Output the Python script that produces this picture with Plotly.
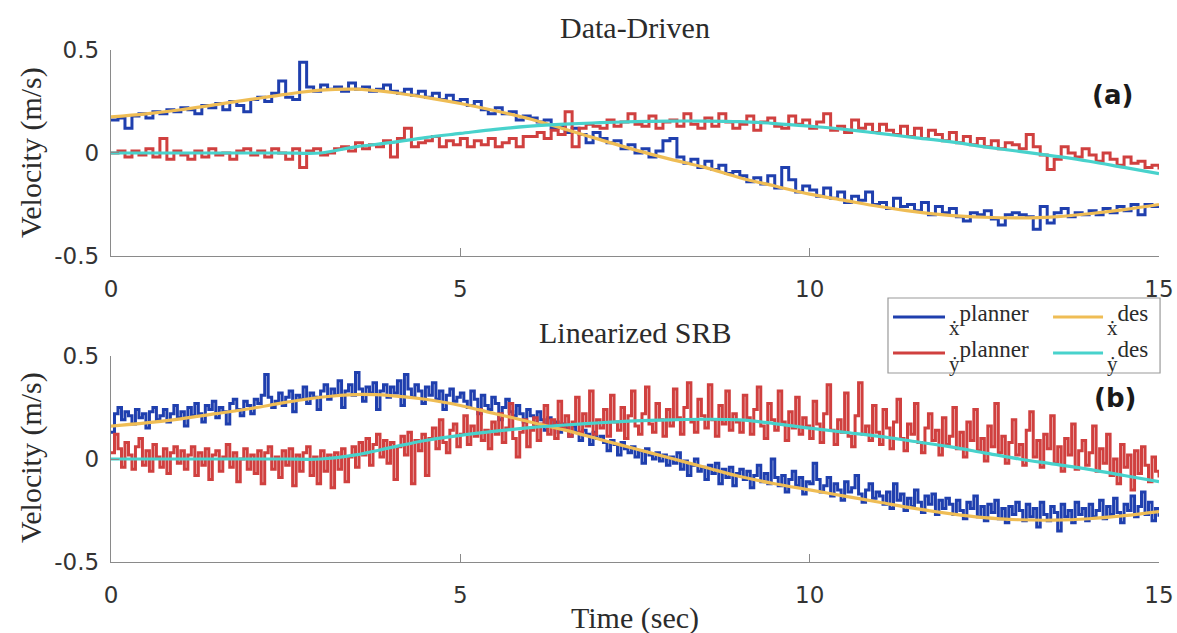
import numpy as np
import plotly.graph_objects as go

# ---------------- data ----------------
# planner output: Data-Driven logged every 0.1 s, Linearized SRB every 0.05 s
t_plan_dd = np.round(np.arange(0, 15.0001, 0.1), 2)
t_plan_srb = np.round(np.arange(0, 15.0001, 0.05), 2)
# desired trajectories every 0.5 s
t_des = np.round(np.arange(0, 15.0001, 0.5), 2)

# (a) Data-Driven
dd_xdot_planner = [
    0.16, 0.17, 0.12, 0.18, 0.19, 0.17, 0.20, 0.19, 0.21, 0.20,
    0.22, 0.21, 0.19, 0.23, 0.22, 0.24, 0.21, 0.25, 0.23, 0.20,
    0.26, 0.27, 0.25, 0.29, 0.35, 0.27, 0.26, 0.44, 0.32, 0.30,
    0.33, 0.31, 0.32, 0.30, 0.34, 0.31, 0.32, 0.30, 0.31, 0.33,
    0.30, 0.29, 0.31, 0.28, 0.30, 0.27, 0.29, 0.26, 0.28, 0.25,
    0.26, 0.23, 0.25, 0.21, 0.19, 0.22, 0.19, 0.20, 0.16, 0.18,
    0.17, 0.15, 0.16, 0.12, 0.13, 0.10, 0.12, 0.09, 0.05, 0.10,
    0.07, 0.05, 0.06, 0.02, 0.04, 0.00, 0.02, -0.02, 0.01, 0.06,
    0.07, -0.02, -0.05, -0.03, -0.07, -0.04, -0.08, -0.06, -0.10, -0.09,
    -0.11, -0.14, -0.12, -0.15, -0.11, -0.17, -0.07, -0.13, -0.19, -0.16,
    -0.18, -0.21, -0.17, -0.22, -0.19, -0.24, -0.21, -0.23, -0.19, -0.25,
    -0.24, -0.27, -0.22, -0.26, -0.25, -0.28, -0.24, -0.30, -0.26, -0.29,
    -0.27, -0.31, -0.33, -0.29, -0.30, -0.28, -0.32, -0.35, -0.30, -0.29,
    -0.30, -0.31, -0.37, -0.26, -0.34, -0.29, -0.27, -0.31, -0.29, -0.30,
    -0.28, -0.30, -0.27, -0.29, -0.26, -0.28, -0.25, -0.30, -0.25, -0.26,
    -0.25,
]
dd_ydot_planner = [
    0.00, 0.01, -0.02, 0.01, -0.01, 0.02, -0.02, 0.07, -0.03, 0.01,
    -0.01, -0.03, 0.01, -0.02, 0.02, -0.01, 0.00, -0.03, 0.01, 0.02,
    -0.01, 0.01, -0.02, 0.02, 0.00, -0.03, 0.02, -0.07, 0.01, 0.02,
    -0.01, 0.00, 0.02, 0.03, 0.01, 0.05, 0.02, 0.04, 0.03, 0.06,
    -0.02, 0.07, 0.12, 0.03, 0.05, 0.06, 0.08, 0.03, 0.06, 0.04,
    0.07, 0.03, 0.06, 0.04, 0.07, 0.03, 0.05, 0.07, 0.03, 0.08,
    0.08, 0.10, 0.07, 0.11, 0.09, 0.20, 0.03, 0.12, 0.14, 0.13,
    0.12, 0.16, 0.13, 0.15, 0.19, 0.14, 0.13, 0.18, 0.12, 0.15,
    0.16, 0.13, 0.19, 0.14, 0.12, 0.17, 0.13, 0.19, 0.15, 0.12,
    0.14, 0.18, 0.11, 0.15, 0.17, 0.13, 0.12, 0.18, 0.14, 0.16,
    0.12, 0.15, 0.19, 0.11, 0.13, 0.10, 0.16, 0.12, 0.14, 0.10,
    0.14, 0.11, 0.09, 0.13, 0.08, 0.12, 0.07, 0.11, 0.09, 0.06,
    0.10, 0.05, 0.08, 0.04, 0.07, 0.03, 0.06, 0.02, 0.05, 0.04,
    0.02, 0.09, 0.03, -0.01, -0.08, -0.03, 0.03, 0.00, -0.02, 0.02,
    -0.01, -0.04, 0.00, -0.03, -0.06, -0.02, -0.05, -0.04, -0.07, -0.06,
    -0.08,
]
dd_xdot_des = [
    0.175, 0.19, 0.21, 0.235, 0.26, 0.285, 0.305, 0.31, 0.295, 0.27,
    0.24, 0.205, 0.165, 0.115, 0.065, 0.015, -0.03, -0.07, -0.12, -0.16,
    -0.2, -0.23, -0.26, -0.285, -0.303, -0.312, -0.315, -0.31, -0.295, -0.275,
    -0.25,
]
dd_ydot_des = [
    0.0, 0.0, 0.0, 0.0, 0.0, 0.0, 0.0, 0.03, 0.05, 0.075,
    0.095, 0.115, 0.13, 0.14, 0.147, 0.152, 0.155, 0.155, 0.152, 0.143,
    0.13, 0.115, 0.095, 0.075, 0.055, 0.03, 0.008, -0.015, -0.04, -0.07,
    -0.1,
]

# (b) Linearized SRB, one row per second
srb_xdot_planner = [
    0.13, 0.22, 0.25, 0.19, 0.23, 0.21, 0.17, 0.24, 0.20, 0.22, 0.15, 0.23, 0.25, 0.19, 0.21, 0.24, 0.18, 0.22, 0.26, 0.20,
    0.23, 0.16, 0.25, 0.21, 0.27, 0.22, 0.18, 0.26, 0.24, 0.28, 0.20, 0.25, 0.23, 0.17, 0.27, 0.29, 0.24, 0.21, 0.28, 0.26,
    0.22, 0.29, 0.27, 0.31, 0.41, 0.30, 0.25, 0.28, 0.32, 0.26, 0.30, 0.33, 0.23, 0.31, 0.29, 0.35, 0.27, 0.32, 0.30, 0.24,
    0.33, 0.36, 0.29, 0.34, 0.31, 0.38, 0.25, 0.33, 0.36, 0.31, 0.42, 0.34, 0.28, 0.35, 0.32, 0.37, 0.24, 0.33, 0.36, 0.30,
    0.35, 0.32, 0.38, 0.26, 0.41, 0.34, 0.30, 0.36, 0.33, 0.27, 0.35, 0.31, 0.37, 0.29, 0.33, 0.24, 0.31, 0.34, 0.28, 0.30,
    0.32, 0.28, 0.25, 0.33, 0.29, 0.22, 0.31, 0.26, 0.24, 0.30, 0.27, 0.19, 0.25, 0.29, 0.23, 0.21, 0.26, 0.22, 0.18, 0.24,
    0.21, 0.17, 0.23, 0.19, 0.14, 0.20, 0.16, 0.18, 0.13, 0.17, 0.15, 0.11, 0.16, 0.13, 0.09, 0.14, 0.12, 0.07, 0.13, 0.10,
    0.11, 0.08, 0.04, 0.09, 0.07, 0.02, 0.08, 0.05, 0.03, 0.06, 0.01, 0.04, -0.02, 0.05, 0.02, 0.00, 0.03, -0.01, 0.02, -0.03,
    0.01, -0.02, 0.03, -0.05, -0.01, -0.08, -0.03, 0.00, -0.06, -0.04, -0.10, -0.03, -0.07, -0.02, -0.12, -0.05, -0.09, -0.04, -0.13, -0.07,
    -0.05, -0.10, -0.06, -0.14, -0.08, -0.03, -0.11, -0.07, -0.12, 0.00, -0.09, -0.13, -0.08, -0.16, -0.10, -0.06, -0.13, -0.09, -0.17, -0.11,
    -0.12, -0.02, -0.10, -0.16, -0.13, -0.09, -0.18, -0.12, -0.15, -0.20, -0.11, -0.16, -0.14, -0.08, -0.17, -0.21, -0.15, -0.12, -0.19, -0.16,
    -0.18, -0.22, -0.16, -0.24, -0.12, -0.20, -0.17, -0.25, -0.19, -0.23, -0.15, -0.21, -0.26, -0.18, -0.22, -0.17, -0.27, -0.20, -0.24, -0.19,
    -0.22, -0.27, -0.20, -0.25, -0.29, -0.21, -0.24, -0.18, -0.28, -0.23, -0.30, -0.22, -0.26, -0.20, -0.29, -0.24, -0.31, -0.23, -0.27, -0.21,
    -0.25, -0.30, -0.22, -0.28, -0.24, -0.33, -0.21, -0.27, -0.30, -0.23, -0.26, -0.35, -0.22, -0.28, -0.25, -0.31, -0.21, -0.27, -0.24, -0.30,
    -0.22, -0.28, -0.25, -0.20, -0.29, -0.23, -0.27, -0.19, -0.26, -0.31, -0.22, -0.25, -0.18, -0.28, -0.23, -0.16, -0.27, -0.21, -0.30, -0.24,
    -0.28,
]
srb_ydot_planner = [
    0.03, 0.12, 0.05, -0.04, 0.08, 0.02, -0.05, 0.06, 0.10, -0.03, 0.04, -0.06, 0.07, 0.01, -0.04, 0.05, -0.07, 0.03, 0.06, -0.02,
    0.04, -0.05, 0.02, 0.06, -0.08, 0.03, -0.03, 0.05, -0.10, 0.02, 0.04, -0.06, 0.01, 0.07, -0.04, 0.03, -0.11, 0.00, 0.05, -0.05,
    0.02, -0.07, 0.04, -0.12, 0.03, 0.06, -0.05, 0.01, -0.09, 0.04, -0.03, 0.05, -0.13, 0.02, -0.06, 0.03, 0.06, -0.08, 0.01, -0.12,
    0.04, -0.06, 0.02, -0.14, 0.03, -0.05, 0.05, -0.11, 0.01, 0.06, -0.04, 0.08, 0.02, 0.10, -0.03, 0.07, 0.12, 0.01, 0.09, -0.02,
    0.08, -0.10, 0.06, 0.11, 0.02, 0.13, -0.12, 0.09, 0.04, 0.12, -0.08, 0.10, 0.15, 0.05, 0.19, 0.08, 0.03, 0.14, 0.17, 0.06,
    0.12, 0.21, 0.07, 0.16, 0.11, 0.24, 0.09, 0.14, 0.05, 0.18, 0.12, 0.22, 0.08, 0.15, 0.27, 0.10, 0.01, 0.13, 0.19, 0.06,
    0.14, 0.20, 0.09, 0.17, 0.26, 0.12, 0.19, 0.10, 0.28, 0.15, 0.21, 0.11, 0.18, 0.30, 0.13, 0.22, 0.16, 0.33, 0.12, 0.19,
    0.15, 0.24, 0.11, 0.31, 0.18, 0.14, 0.25, 0.10, 0.21, 0.33, 0.16, 0.12, 0.22, 0.35, 0.17, 0.13, 0.27, 0.19, 0.11, 0.24,
    0.16, 0.34, 0.20, 0.12, 0.25, 0.37, 0.18, 0.13, 0.29, 0.21, 0.15, 0.36, 0.19, 0.11, 0.26, 0.17, 0.33, 0.14, 0.22, 0.18,
    0.13, 0.31, 0.20, 0.12, 0.24, 0.35, 0.16, 0.10, 0.27, 0.19, 0.14, 0.33, 0.18, 0.09, 0.23, 0.15, 0.30, 0.12, 0.20, 0.16,
    0.10, 0.28, 0.17, 0.08, 0.22, 0.36, 0.14, 0.07, 0.19, 0.13, 0.32, 0.11, 0.06, 0.21, 0.37, 0.12, 0.16, 0.09, 0.26, 0.13,
    0.07, 0.24, 0.15, 0.05, 0.18, 0.29, 0.10, 0.04, 0.17, 0.12, 0.27, 0.08, 0.03, 0.15, 0.22, 0.09, 0.14, 0.02, 0.20, 0.07,
    0.11, 0.25, 0.05, 0.13, 0.01, 0.18, 0.09, 0.24, 0.04, 0.10, -0.01, 0.16, 0.06, 0.27, 0.03, 0.11, -0.02, 0.08, 0.19, 0.02,
    0.07, -0.03, 0.14, 0.23, 0.01, 0.09, -0.04, 0.12, 0.05, 0.21, -0.02, 0.06, -0.06, 0.10, 0.02, 0.17, -0.05, 0.04, 0.09, -0.03,
    0.03, 0.16, -0.06, 0.05, -0.02, 0.12, -0.08, 0.00, -0.12, 0.07, -0.04, 0.02, -0.15, 0.04, -0.07, 0.06, -0.03, -0.11, 0.01, -0.06,
    -0.09,
]
srb_xdot_des = [
    0.16, 0.175, 0.195, 0.22, 0.245, 0.275, 0.30, 0.313, 0.308, 0.29,
    0.26, 0.22, 0.18, 0.14, 0.095, 0.05, 0.005, -0.04, -0.085, -0.12,
    -0.15, -0.18, -0.21, -0.24, -0.265, -0.285, -0.295, -0.297, -0.29, -0.275,
    -0.255,
]
srb_ydot_des = [
    0.0, 0.0, 0.0, 0.0, 0.0, 0.0, 0.0, 0.02, 0.055, 0.09,
    0.115, 0.135, 0.152, 0.165, 0.176, 0.185, 0.19, 0.193, 0.19, 0.172,
    0.15, 0.13, 0.11, 0.085, 0.06, 0.03, 0.0, -0.025, -0.05, -0.08,
    -0.11,
]

x_ticks = [0, 5, 10, 15]
y_ticks = [-0.5, 0, 0.5]
y_tick_text = ["-0.5", "0", "0.5"]

# ---------------- style ----------------
BLUE = "#1f3fae"
RED = "#d0403f"
YELLOW = "#efbd55"
CYAN = "#48d2cc"
AXIS = "#8a8a8a"
TEXT = "#2b2b2b"
SERIF = "Liberation Serif"
SANS = "DejaVu Sans"

fig = go.Figure()

panels = [
    ("x", "y", t_plan_dd, dd_xdot_planner, dd_ydot_planner, dd_xdot_des, dd_ydot_des),
    ("x2", "y2", t_plan_srb, srb_xdot_planner, srb_ydot_planner, srb_xdot_des, srb_ydot_des),
]
for xa, ya, tp, xp, yp, xd, yd in panels:
    fig.add_trace(go.Scatter(x=tp, y=xp, mode="lines", line=dict(color=BLUE, width=3, shape="hv"),
                             xaxis=xa, yaxis=ya, showlegend=False))
    fig.add_trace(go.Scatter(x=tp, y=yp, mode="lines", line=dict(color=RED, width=3, shape="hv"),
                             xaxis=xa, yaxis=ya, showlegend=False))
    fig.add_trace(go.Scatter(x=t_des, y=xd, mode="lines", line=dict(color=YELLOW, width=3.2, shape="spline"),
                             xaxis=xa, yaxis=ya, showlegend=False))
    fig.add_trace(go.Scatter(x=t_des, y=yd, mode="lines", line=dict(color=CYAN, width=3.2, shape="spline"),
                             xaxis=xa, yaxis=ya, showlegend=False))

xaxis_style = dict(range=[0, 15], tickvals=x_ticks, showline=True, linecolor=AXIS, linewidth=1.4,
                   ticks="inside", ticklen=8, tickcolor=AXIS, tickwidth=1.2, showgrid=False, zeroline=False,
                   automargin=False,
                   tickfont=dict(family=SANS, size=23, color="#333333"), ticklabelstandoff=12)
yaxis_style = dict(range=[-0.5, 0.5], tickvals=y_ticks, ticktext=y_tick_text, showline=True, linecolor=AXIS,
                   linewidth=1.4, ticks="inside", ticklen=8, tickcolor=AXIS, tickwidth=1.2, showgrid=False,
                   zeroline=False, automargin=False,
                   tickfont=dict(family=SANS, size=23, color="#333333"), ticklabelstandoff=6)

fig.update_layout(
    width=1177, height=633,
    margin=dict(l=111, r=18, t=50, b=71, autoexpand=False),
    paper_bgcolor="white", plot_bgcolor="white",
    xaxis=dict(domain=[0, 1], anchor="y", **xaxis_style),
    yaxis=dict(domain=[0.5977, 1.0], anchor="x", **yaxis_style),
    xaxis2=dict(domain=[0, 1], anchor="y2", **xaxis_style),
    yaxis2=dict(domain=[0.0, 0.4023], anchor="x2", **yaxis_style),
    showlegend=False,
)

# titles and labels
ann = []
def txt(text, x, y, size=30, family=SERIF, angle=0, color=TEXT, xanchor="center", yanchor="middle"):
    ann.append(dict(text=text, x=x, y=y, xref="paper", yref="paper", showarrow=False,
                    font=dict(family=family, size=size, color=color), textangle=angle,
                    xanchor=xanchor, yanchor=yanchor))

txt("Data-Driven", 0.5, 1.0449)
txt("Linearized SRB", 0.5, 0.4473)
txt("Time (sec)", 0.5, -0.109)
txt("Velocity (m/s)", -0.0763, 0.7988, angle=-90)
txt("Velocity (m/s)", -0.0763, 0.2031, angle=-90)
txt("<b>(a)</b>", 0.956, 0.912, size=26, family=SANS, color="#1a1a1a")
txt("<b>(b)</b>", 0.958, 0.3203, size=26, family=SANS, color="#1a1a1a")

# legend: framed box, line samples and labels
legend_planner = [("ẋ", BLUE, 0.4785), ("ẏ", RED, 0.4082)]
legend_des = [("ẋ", YELLOW, 0.4785), ("ẏ", CYAN, 0.4082)]
shapes = [dict(type="rect", xref="paper", yref="paper", x0=0.7414, x1=1.001, y0=0.3691, y1=0.5156,
               line=dict(color="#9a9a9a", width=1.2), fillcolor="white", layer="above")]
for entries, x0, x1, sup in ((legend_planner, 0.7462, 0.7958, "planner"),
                             (legend_des, 0.8989, 0.9466, "des")):
    for sym, col, yy in entries:
        shapes.append(dict(type="line", xref="paper", yref="paper", x0=x0, x1=x1, y0=yy, y1=yy,
                           line=dict(color=col, width=3.2), layer="above"))
        txt(f"<span style='font-size:21px'>{sym}</span><sup>{sup}</sup>", x1 + 0.002, yy - 0.006,
            size=33, xanchor="left")

fig.update_layout(annotations=ann, shapes=shapes)
fig.write_html("out.html")
